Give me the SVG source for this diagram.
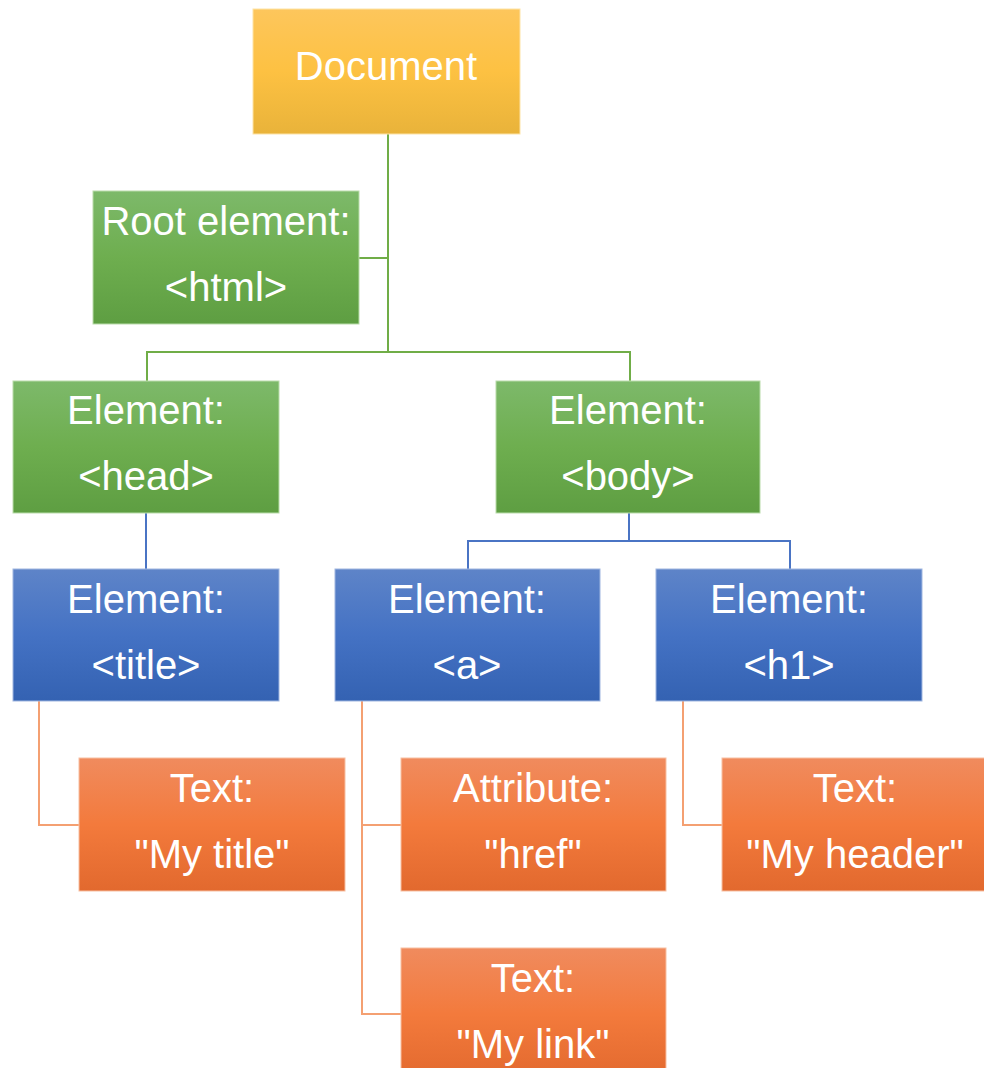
<svg xmlns="http://www.w3.org/2000/svg" width="984" height="1068" viewBox="0 0 984 1068">
<defs>
<linearGradient id="gY" x1="0" y1="0" x2="0" y2="1"><stop offset="0" stop-color="#fdc65c"/><stop offset="0.5" stop-color="#fdc142"/><stop offset="1" stop-color="#e9b33a"/></linearGradient>
<linearGradient id="gG" x1="0" y1="0" x2="0" y2="1"><stop offset="0" stop-color="#7db96a"/><stop offset="0.5" stop-color="#6eae4f"/><stop offset="1" stop-color="#5e9e42"/></linearGradient>
<linearGradient id="gB" x1="0" y1="0" x2="0" y2="1"><stop offset="0" stop-color="#5e84c8"/><stop offset="0.5" stop-color="#4472c4"/><stop offset="1" stop-color="#3462b2"/></linearGradient>
<linearGradient id="gO" x1="0" y1="0" x2="0" y2="1"><stop offset="0" stop-color="#f08b5e"/><stop offset="0.5" stop-color="#f37a3c"/><stop offset="1" stop-color="#e2692e"/></linearGradient>
</defs>
<style>
text{font-family:"Liberation Sans",Arial,sans-serif;font-size:40px;fill:#fff;text-anchor:middle}
.y{fill:url(#gY);stroke:#fde3a6;stroke-width:1}
.g{fill:url(#gG);stroke:#b9dcaa;stroke-width:1}
.b{fill:url(#gB);stroke:#9fb6e0;stroke-width:1}
.o{fill:url(#gO);stroke:#f7bfa2;stroke-width:1}
.cg{stroke:#70ad47;stroke-width:2;fill:none}
.cb{stroke:#4a74c4;stroke-width:2;fill:none}
.co{stroke:#f4a072;stroke-width:2;fill:none}
</style>
<g id="connectors">
<path class="cg" d="M388 134 V352 M359 258 H388 M147 381 V352 H630 V381"/>
<path class="cb" d="M146 513 V569 M629 513 V541 M468 569 V541 H790 V569"/>
<path class="co" d="M39 701 V825 H79"/>
<path class="co" d="M362 701 V1014 H401 M362 825 H401"/>
<path class="co" d="M683 701 V825 H722"/>
</g>
<g id="document"><rect class="y" x="253" y="9" width="267" height="125"/><text x="386" y="80">Document</text></g>
<g id="html"><rect class="g" x="93" y="191" width="266" height="133"/><text x="226" y="235">Root element:</text><text x="226" y="301">&lt;html&gt;</text></g>
<g id="head"><rect class="g" x="13" y="381" width="266" height="132"/><text x="146" y="424">Element:</text><text x="146" y="490">&lt;head&gt;</text></g>
<g id="body"><rect class="g" x="496" y="381" width="264" height="132"/><text x="628" y="424">Element:</text><text x="628" y="490">&lt;body&gt;</text></g>
<g id="title"><rect class="b" x="13" y="569" width="266" height="132"/><text x="146" y="613">Element:</text><text x="146" y="679">&lt;title&gt;</text></g>
<g id="a"><rect class="b" x="335" y="569" width="265" height="132"/><text x="467" y="613">Element:</text><text x="467" y="679">&lt;a&gt;</text></g>
<g id="h1"><rect class="b" x="656" y="569" width="266" height="132"/><text x="789" y="613">Element:</text><text x="789" y="679">&lt;h1&gt;</text></g>
<g id="text-title"><rect class="o" x="79" y="758" width="266" height="133"/><text x="212" y="802">Text:</text><text x="212" y="868">"My title"</text></g>
<g id="attr-href"><rect class="o" x="401" y="758" width="265" height="133"/><text x="533" y="802">Attribute:</text><text x="533" y="868">"href"</text></g>
<g id="text-header"><rect class="o" x="722" y="758" width="266" height="133"/><text x="855" y="802">Text:</text><text x="855" y="868">"My header"</text></g>
<g id="text-link"><rect class="o" x="401" y="948" width="265" height="133"/><text x="533" y="992">Text:</text><text x="533" y="1058">"My link"</text></g>
</svg>
